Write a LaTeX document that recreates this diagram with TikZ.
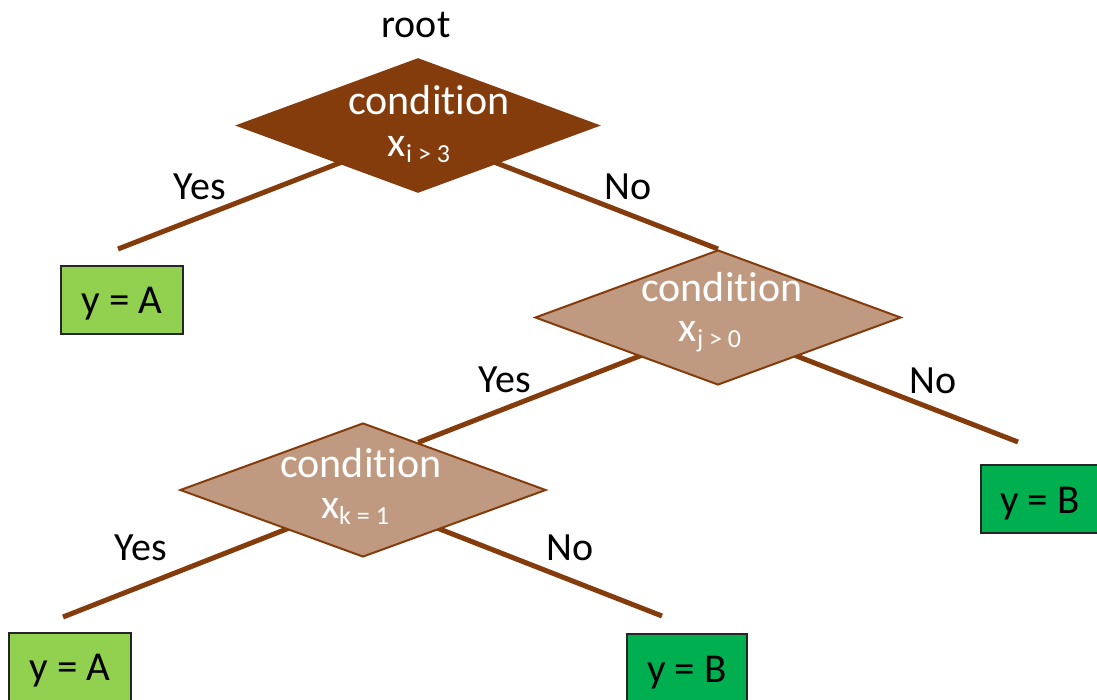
\documentclass[tikz,border=0pt]{standalone}
\usepackage{fontspec}
\setmainfont{Carlito}[RawFeature=-liga]
\usetikzlibrary{shapes.geometric,backgrounds,calc}
\definecolor{rootbrown}{HTML}{843C0C}
\definecolor{lightbrown}{HTML}{C09A80}
\definecolor{leafa}{HTML}{92D050}
\definecolor{leafb}{HTML}{00B050}
% lowered, smaller index text after a variable name
\newcommand\lowsub[1]{{\fontsize{13}{14}\selectfont\raisebox{-3pt}{#1}}}
\begin{document}
\begin{tikzpicture}[x=0.5pt,y=-0.5pt,
  txt/.style={font=\fontsize{20}{24}\selectfont, inner sep=0pt},
  splitnode/.style={diamond, inner sep=0pt, minimum width=183pt, minimum height=67.5pt},
  rootsplit/.style={splitnode, fill=rootbrown},
  innersplit/.style={splitnode, fill=lightbrown, draw=rootbrown, line width=1pt},
  condtext/.style={font=\fontsize{21}{24}\selectfont, inner sep=0pt, text=white, anchor=base},
  leaf/.style={font=\fontsize{20.5}{24}\selectfont, inner sep=0pt, draw=black!85,
    line width=1pt, minimum width=61pt, minimum height=34pt,
    text height=14pt, text depth=0pt},
  branch/.style={draw=rootbrown, line width=2.5pt}]
\useasboundingbox (0,0) rectangle (1097,700);
\clip (0,0) rectangle (1097,700);

% decision nodes
\node[rootsplit] (r) at (418,125.5) {};
\node[innersplit] (c2) at (718,317.5) {};
\node[innersplit, minimum height=67pt] (c3) at (363,490) {};

\node[condtext] (r-a) at (429,115) {condition};
\node[condtext] (r-b) at (419,157) {x\lowsub{i > 3}};
\node[condtext] (c2-a) at (722,301) {condition};
\node[condtext] (c2-b) at (710,341) {x\lowsub{j > 0}};
\node[condtext] (c3-a) at (361,477) {condition};
\node[condtext] (c3-b) at (355,518) {x\lowsub{k = 1}};

% leaves
\node[leaf, fill=leafa] (la1) at (122,300) {y = A};
\node[leaf, fill=leafb, minimum width=59pt] (lb1) at (1040,499) {y = B};
\node[leaf, fill=leafa] (la2) at (70,666.5) {y = A};
\node[leaf, fill=leafb, minimum width=60pt] (lb2) at (687,668) {y = B};

% branch end points
\coordinate (r-o) at ($(r.center)+(0,7)$);
\coordinate (c2-o) at ($(c2.center)+(0,8)$);
\coordinate (c3-o) at ($(c3.center)+(0,9)$);
\coordinate (c3-in) at ($(c3.north)!0.3!(c3.east)$);
\coordinate (e1) at (118,249);
\coordinate (e2) at (1018,442);
\coordinate (e3) at (63,617);
\coordinate (e4) at (662,616);

\begin{pgfonlayer}{background}
\draw[branch] (r-o) -- (e1);
\draw[branch] (r-o) -- (c2.north);
\draw[branch] (c2-o) -- (c3-in);
\draw[branch] (c2-o) -- (e2);
\draw[branch] (c3-o) -- (e3);
\draw[branch] (c3-o) -- (e4);
\end{pgfonlayer}

% labels
\node[txt] (rootlbl) at (416,25) {root};
\node[txt] (y1) at (200,187) {Yes};
\node[txt] (n1) at (628,187) {No};
\node[txt] (y2) at (505,380) {Yes};
\node[txt] (n2) at (933,381) {No};
\node[txt] (y3) at (141,548) {Yes};
\node[txt] (n3) at (570,548) {No};
\end{tikzpicture}
\end{document}
